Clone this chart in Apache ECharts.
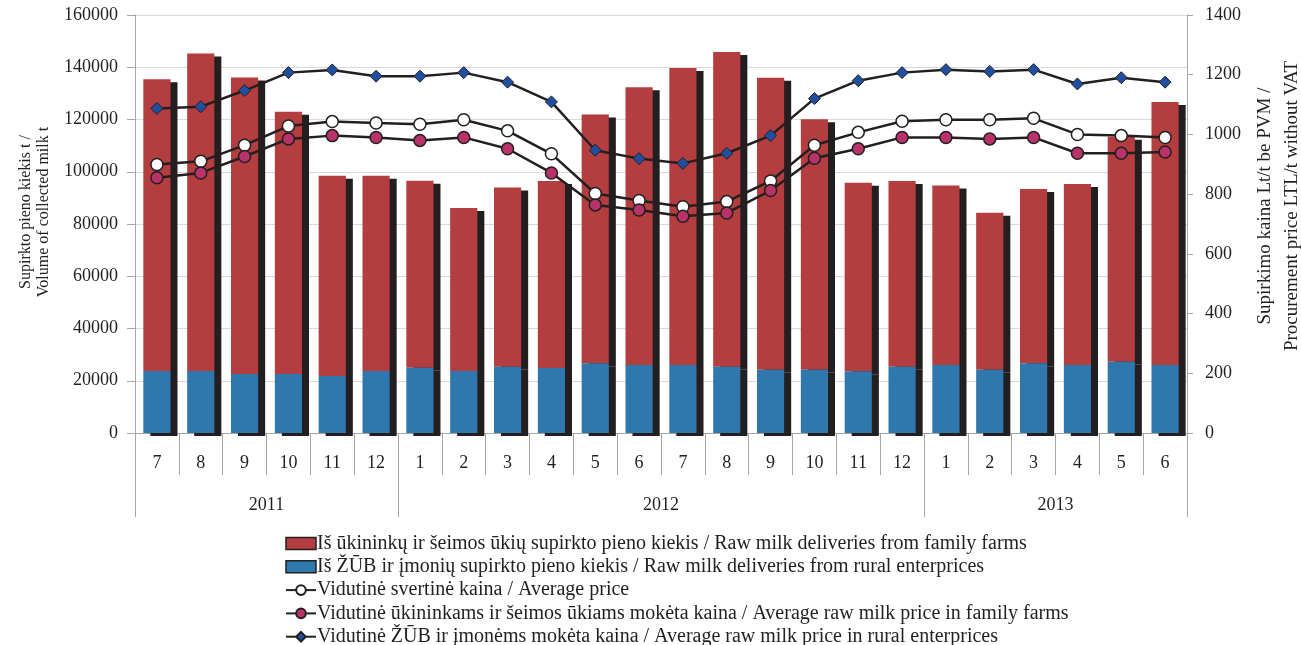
<!DOCTYPE html>
<html>
<head>
<meta charset="utf-8">
<script src="https://cdn.jsdelivr.net/npm/echarts@6/dist/echarts.min.js"></script>
<style>html,body{margin:0;padding:0;background:#fff}#c{width:1301px;height:645px}</style>
</head>
<body>
<div id="c"></div>
<script>
const months = ['7','8','9','10','11','12','1','2','3','4','5','6','7','8','9','10','11','12','1','2','3','4','5','6'];
const years = ['2011','2012','2013'];
const yearCenters = [3, 12, 21];
const yearBounds = [0, 6, 18, 24];
const familyFarms = [111700,121600,113500,100400,76700,74800,71600,62400,68600,71600,95200,106300,113700,120400,111800,95900,72200,71100,68700,60100,66700,69300,86100,100700];
const ruralEnterprises = [23700,23700,22600,22600,21800,23700,25000,23700,25400,24900,26700,26000,26000,25400,24200,24200,23600,25400,26000,24200,26700,26000,27300,26000];
const avgPrice = [899,910,964,1028,1043,1038,1034,1049,1012,935,802,779,758,775,844,964,1007,1044,1049,1049,1054,1000,996,990];
const familyPrice = [855,871,926,985,996,990,980,990,952,871,764,747,726,737,812,920,952,990,990,985,990,937,937,941];
const ruralPrice = [1087,1093,1147,1207,1216,1195,1195,1207,1175,1109,947,919,903,937,996,1120,1180,1207,1217,1211,1217,1169,1190,1175];

const names = [
  'Iš ūkininkų ir šeimos ūkių supirkto pieno kiekis / Raw milk deliveries from family farms',
  'Iš ŽŪB ir įmonių supirkto pieno kiekis / Raw milk deliveries from rural enterprices',
  'Vidutinė svertinė kaina / Average price',
  'Vidutinė ūkininkams ir šeimos ūkiams mokėta kaina / Average raw milk price in family farms',
  'Vidutinė ŽŪB ir įmonėms mokėta kaina / Average raw milk price in rural enterprices'
];

const font = 'Liberation Serif';
const txt = '#231f20';
const axisGray = '#a6a6a6';

const chart = echarts.init(document.getElementById('c'));
chart.setOption({
  animation: false,
  textStyle: { fontFamily: font, color: txt },
  grid: { left: 135, right: 114, top: 15, bottom: 212, outerBoundsMode: 'none', containLabel: false },
  legend: {
    data: [
      { name: names[0], icon: 'rect', itemStyle: { borderColor: '#231f20', borderWidth: 1.5 } },
      { name: names[1], icon: 'rect', itemStyle: { borderColor: '#231f20', borderWidth: 1.5 } },
      names[2], names[3], names[4]
    ],
    orient: 'vertical',
    left: 280,
    top: 528.5,
    height: 130,
    itemGap: 3.3,
    itemWidth: 30,
    itemHeight: 12,
    textStyle: { fontFamily: font, fontSize: 20, color: txt, padding: [0,0,0,-4] },
    itemStyle: { shadowBlur: 0, shadowOffsetX: 0, shadowOffsetY: 0, shadowColor: 'transparent' }
  },
  xAxis: [
    {
      type: 'category',
      data: months,
      axisLine: { lineStyle: { color: axisGray } },
      axisTick: { show: true, interval: 0, length: 42, lineStyle: { color: axisGray } },
      axisLabel: { fontFamily: font, fontSize: 18, color: txt, margin: 21, interval: 0 }
    },
    {
      type: 'value',
      min: 0, max: 24,
      position: 'bottom',
      axisLine: { show: false },
      splitLine: { show: false },
      axisTick: { show: true, customValues: yearBounds, length: 84, lineStyle: { color: axisGray } },
      axisLabel: {
        customValues: yearCenters, fontFamily: font, fontSize: 18, color: txt, margin: 63,
        formatter: v => years[yearCenters.indexOf(v)]
      }
    }
  ],
  yAxis: [
    {
      type: 'value', min: 0, max: 160000, interval: 20000,
      name: 'Supirkto pieno kiekis t /\nVolume of collected milk t',
      nameLocation: 'middle', nameGap: 82, nameRotate: 90,
      nameTextStyle: { fontFamily: font, fontSize: 16, color: txt, lineHeight: 18, padding: [0, 0, 0, 24] },
      axisLine: { show: true, lineStyle: { color: axisGray } },
      axisTick: { show: true, length: 8, lineStyle: { color: axisGray } },
      axisLabel: { fontFamily: font, fontSize: 18, color: txt, margin: 17, formatter: v => String(v) },
      splitLine: { lineStyle: { color: '#d9d9d9', width: 1 } }
    },
    {
      type: 'value', min: 0, max: 1400, interval: 200,
      name: 'Supirkimo kaina Lt/t be PVM /\nProcurement price LTL/t without VAT',
      nameLocation: 'middle', nameGap: 51, nameRotate: 90,
      nameTextStyle: { fontFamily: font, fontSize: 19, color: txt, lineHeight: 27, padding: [0, 0, 0, 36] },
      axisLine: { show: true, lineStyle: { color: axisGray } },
      axisTick: { show: true, length: 6, lineStyle: { color: axisGray } },
      axisLabel: { fontFamily: font, fontSize: 18, color: txt, margin: 18, formatter: v => String(v) },
      splitLine: { show: false }
    }
  ],
  series: [
    {
      name: names[1], type: 'bar', stack: 'milk', data: ruralEnterprises, barWidth: '62%', z: 3,
      itemStyle: { color: '#2e78ad', borderWidth: 0,
        shadowColor: '#231f20', shadowBlur: 0, shadowOffsetX: 7, shadowOffsetY: 3 }
    },
    {
      name: names[0], type: 'bar', stack: 'milk', data: familyFarms, barWidth: '62%', z: 2,
      itemStyle: { color: '#b33d3f', borderWidth: 0,
        shadowColor: '#231f20', shadowBlur: 0, shadowOffsetX: 7, shadowOffsetY: 3 }
    },
    {
      name: names[2], type: 'line', yAxisIndex: 1, data: avgPrice, z: 5,
      symbol: 'circle', symbolSize: 12,
      lineStyle: { color: '#231f20', width: 2.5 },
      itemStyle: { color: '#ffffff', borderColor: '#231f20', borderWidth: 1.5 }
    },
    {
      name: names[3], type: 'line', yAxisIndex: 1, data: familyPrice, z: 5,
      symbol: 'circle', symbolSize: 12,
      lineStyle: { color: '#231f20', width: 2.5 },
      itemStyle: { color: '#b8336a', borderColor: '#231f20', borderWidth: 1.5 }
    },
    {
      name: names[4], type: 'line', yAxisIndex: 1, data: ruralPrice, z: 5,
      symbol: 'diamond', symbolSize: 12,
      lineStyle: { color: '#231f20', width: 2.5 },
      itemStyle: { color: '#1f4f9e', borderColor: '#231f20', borderWidth: 1 }
    }
  ]
});
</script>
</body>
</html>
